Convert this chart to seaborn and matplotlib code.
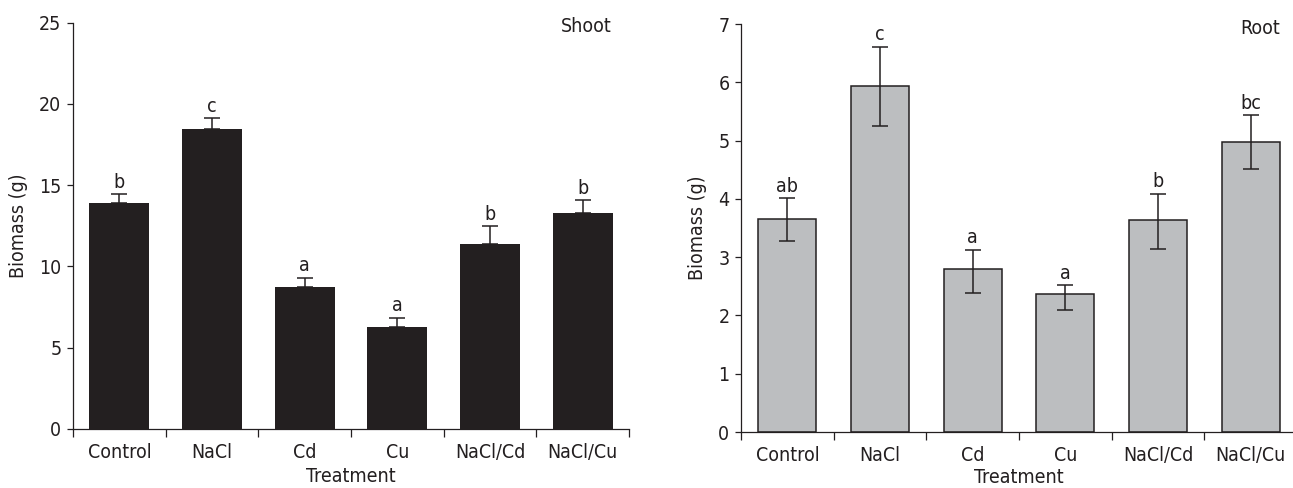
import numpy as np
import pandas as pd
import matplotlib
matplotlib.use("Agg")
import matplotlib.pyplot as plt
import seaborn as sns

treatments = ["Control", "NaCl", "Cd", "Cu", "NaCl/Cd", "NaCl/Cu"]

# shoot biomass (g) and error (upper part is visible only)
shoot_mean = [13.9, 18.46, 8.74, 6.28, 11.38, 13.29]
shoot_err = [0.56, 0.69, 0.57, 0.57, 1.09, 0.78]
shoot_letters = ["b", "c", "a", "a", "b", "b"]

# root biomass (g), error below / above the mean
root_mean = [3.66, 5.94, 2.79, 2.36, 3.63, 4.97]
root_err_low = [0.39, 0.69, 0.40, 0.26, 0.49, 0.46]
root_err_high = [0.35, 0.67, 0.34, 0.16, 0.46, 0.47]
root_letters = ["ab", "c", "a", "a", "b", "bc"]

ink = "#231f20"

sns.set_style("ticks")
plt.rcParams["font.family"] = ["DejaVu Sans"]
plt.rcParams["font.stretch"] = "condensed"
plt.rcParams["font.size"] = 14
plt.rcParams["axes.edgecolor"] = ink
plt.rcParams["xtick.color"] = ink
plt.rcParams["ytick.color"] = ink
plt.rcParams["text.color"] = ink
plt.rcParams["axes.labelcolor"] = ink

fig = plt.figure(figsize=(12.93, 4.88), dpi=100)
ax1 = fig.add_axes([73 / 1293, 1 - 429 / 488, 556 / 1293, (429 - 22.7) / 488])
ax2 = fig.add_axes([741 / 1293, 1 - 432 / 488, 556 / 1293, (432 - 24) / 488])

shoot_df = pd.DataFrame({"Treatment": treatments, "Biomass": shoot_mean})
root_df = pd.DataFrame({"Treatment": treatments, "Biomass": root_mean})

sns.barplot(data=shoot_df, x="Treatment", y="Biomass", color=ink, saturation=1,
            width=0.645, errorbar=None, edgecolor=ink, linewidth=0, ax=ax1)
sns.barplot(data=root_df, x="Treatment", y="Biomass", color="#bcbec0", saturation=1,
            width=0.625, errorbar=None, edgecolor=ink, linewidth=1.1, ax=ax2)

x = np.arange(len(treatments))
ax1.errorbar(x, shoot_mean, yerr=[np.zeros(len(x)), shoot_err], fmt="none",
             ecolor=ink, elinewidth=1.1, capsize=5.5, capthick=1.1, zorder=1)
ax2.errorbar(x, root_mean, yerr=[root_err_low, root_err_high], fmt="none",
             ecolor=ink, elinewidth=1.1, capsize=5.5, capthick=1.1, zorder=3)

for i, lab in enumerate(shoot_letters):
    ax1.annotate(lab, (i, shoot_mean[i] + shoot_err[i]), xytext=(0, 4.5),
                 textcoords="offset points", ha="center", va="baseline", fontsize=14)
for i, lab in enumerate(root_letters):
    ax2.annotate(lab, (i, root_mean[i] + root_err_high[i]), xytext=(0, 4.5),
                 textcoords="offset points", ha="center", va="baseline", fontsize=14)

for ax, ymax, step, name, lpad in [(ax1, 25, 5, "Shoot", 4), (ax2, 7, 1, "Root", 2)]:
    ax.set_xlim(-0.5, 5.5)
    ax.set_ylim(0, ymax)
    ax.set_yticks(np.arange(0, ymax + step / 2, step))
    ax.set_xticks(x)
    ax.set_xticklabels(treatments)
    ax.set_xticks(np.arange(-0.5, 6, 1), minor=True)
    ax.tick_params(axis="x", which="major", length=0, pad=10, labelsize=14)
    ax.tick_params(axis="x", which="minor", length=5.5, width=0.9, direction="out")
    ax.tick_params(axis="y", length=4.3, width=0.9, pad=4, labelsize=14)
    sns.despine(ax=ax)
    for s in ["left", "bottom"]:
        ax.spines[s].set_linewidth(0.9)
    ax.set_xlabel("Treatment", fontsize=14, labelpad=lpad)
    ax.set_ylabel("Biomass (g)", fontsize=14, labelpad=8)
    ax.text(5.315, 0.99, name, transform=ax.get_xaxis_transform(),
            ha="right", va="center", fontsize=14)

fig.savefig("out.png", dpi=100)
